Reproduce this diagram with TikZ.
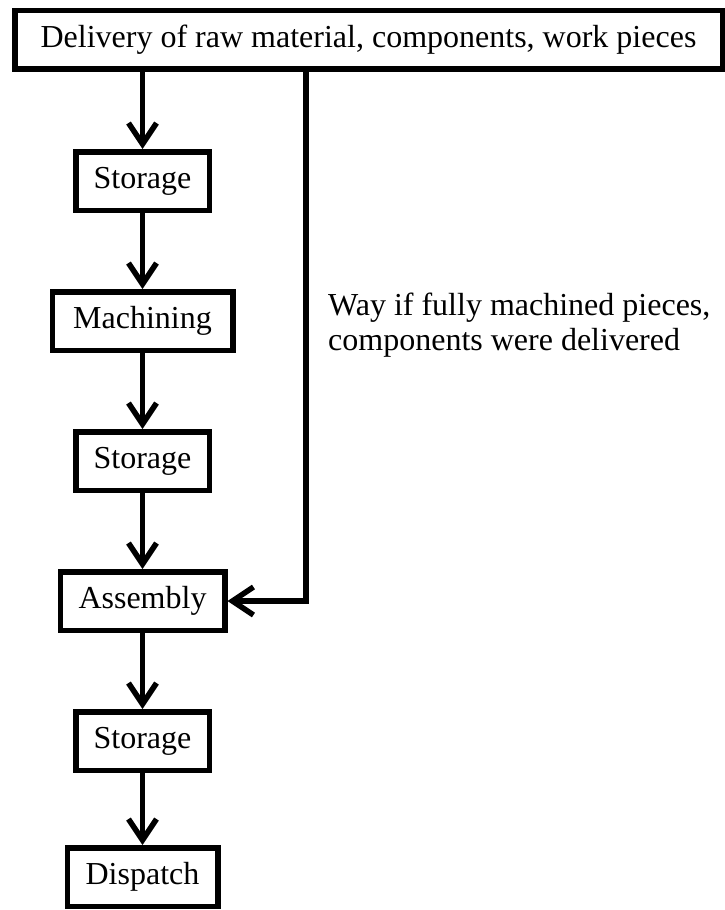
\documentclass[tikz,border=0pt]{standalone}
\usepackage{fontspec}
\setmainfont{Liberation Serif}
\usetikzlibrary{positioning,arrows.meta}

\begin{document}
\begin{tikzpicture}[x=1pt,y=-1pt,
  stage/.style={draw,line width=5.5pt,minimum height=58.5pt,inner sep=0pt,font=\fontsize{32}{35}\selectfont},
  flow/.style={line width=5.5pt,-{Straight Barb[length=21pt,width=28pt]}},
  node distance=76pt]
\useasboundingbox (0,0) rectangle (725,910);
\node[stage,minimum width=707.5pt] (delivery) at (368.5,39.5) {Delivery of raw material, components, work pieces};
\node[stage,minimum width=133.5pt] (store1) at (142.5,181) {Storage};
\node[stage,minimum width=180.5pt,below=of store1] (machining) {Machining};
\node[stage,minimum width=133.5pt,below=of machining] (store2) {Storage};
\node[stage,minimum width=164.5pt,below=of store2] (assembly) {Assembly};
\node[stage,minimum width=133.5pt,below=of assembly] (store3) {Storage};
\node[stage,minimum width=150.5pt,below=72pt of store3] (dispatch) {Dispatch};
\coordinate (bypass) at (306,0);
\node[align=left,anchor=north west,inner sep=0pt,font=\fontsize{32}{35}\selectfont] (bypasstext) at (328,293) {Way if fully machined pieces,\\components were delivered};
\draw[flow] (delivery.south -| store1.north) -- (store1.north);
\draw[flow] (store1) -- (machining);
\draw[flow] (machining) -- (store2);
\draw[flow] (store2) -- (assembly);
\draw[flow] (assembly) -- (store3);
\draw[flow] (store3) -- (dispatch);
\draw[flow] (delivery.south -| bypass) |- (assembly.east);
\end{tikzpicture}
\end{document}
